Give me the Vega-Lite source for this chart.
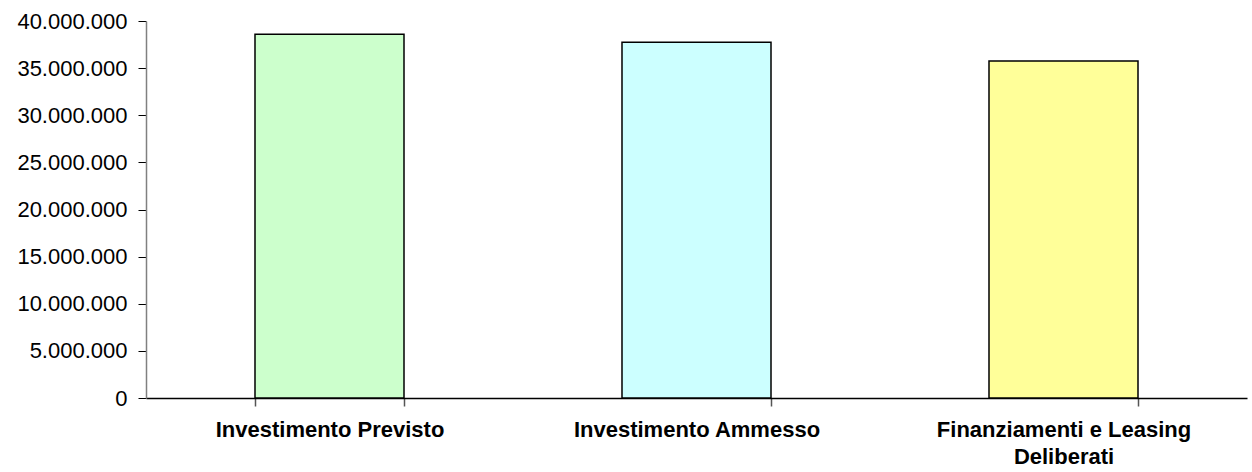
{
  "$schema": "https://vega.github.io/schema/vega-lite/v6.json",
  "width": 1101,
  "height": 377,
  "autosize": {"type": "none"},
  "padding": {"left": 146, "top": 21, "right": 5, "bottom": 74},
  "background": "white",
  "config": {
    "view": {"stroke": null},
    "locale": {"number": {"decimal": ",", "thousands": ".", "grouping": [3], "currency": ["€", ""]}}
  },
  "data": {
    "values": [
      {"categoria": "Investimento Previsto", "valore": 38600000},
      {"categoria": "Investimento Ammesso", "valore": 37750000},
      {"categoria": "Finanziamenti e Leasing Deliberati", "valore": 35750000}
    ]
  },
  "mark": {"type": "bar", "stroke": "black", "strokeWidth": 1.5},
  "encoding": {
    "x": {
      "field": "categoria",
      "type": "nominal",
      "sort": null,
      "scale": {"paddingInner": 0.594, "paddingOuter": 0.297},
      "axis": {
        "title": null,
        "labelAngle": 0,
        "labelFont": "Liberation Sans",
        "labelFontSize": 22,
        "labelFontWeight": "bold",
        "labelColor": "black",
        "labelPadding": 13,
        "labelLimit": 600,
        "labelLineHeight": 27,
        "labelExpr": "datum.label == 'Finanziamenti e Leasing Deliberati' ? ['Finanziamenti e Leasing', 'Deliberati'] : datum.label",
        "tickBand": "extent",
        "tickSize": 8,
        "tickColor": "#555555",
        "tickWidth": 1.5,
        "domainColor": "black",
        "domainWidth": 1.5,
        "grid": false
      }
    },
    "y": {
      "field": "valore",
      "type": "quantitative",
      "scale": {"domain": [0, 40000000], "nice": false},
      "axis": {
        "title": null,
        "values": [0, 5000000, 10000000, 15000000, 20000000, 25000000, 30000000, 35000000, 40000000],
        "format": ",d",
        "labelFont": "Liberation Sans",
        "labelFontSize": 22,
        "labelColor": "black",
        "labelPadding": 11,
        "tickSize": 8,
        "tickColor": "black",
        "domainColor": "#808080",
        "domainWidth": 1.5,
        "grid": false
      }
    },
    "fill": {
      "field": "categoria",
      "type": "nominal",
      "scale": {
        "domain": ["Investimento Previsto", "Investimento Ammesso", "Finanziamenti e Leasing Deliberati"],
        "range": ["#CCFFCC", "#CCFFFF", "#FFFF99"]
      },
      "legend": null
    }
  }
}
